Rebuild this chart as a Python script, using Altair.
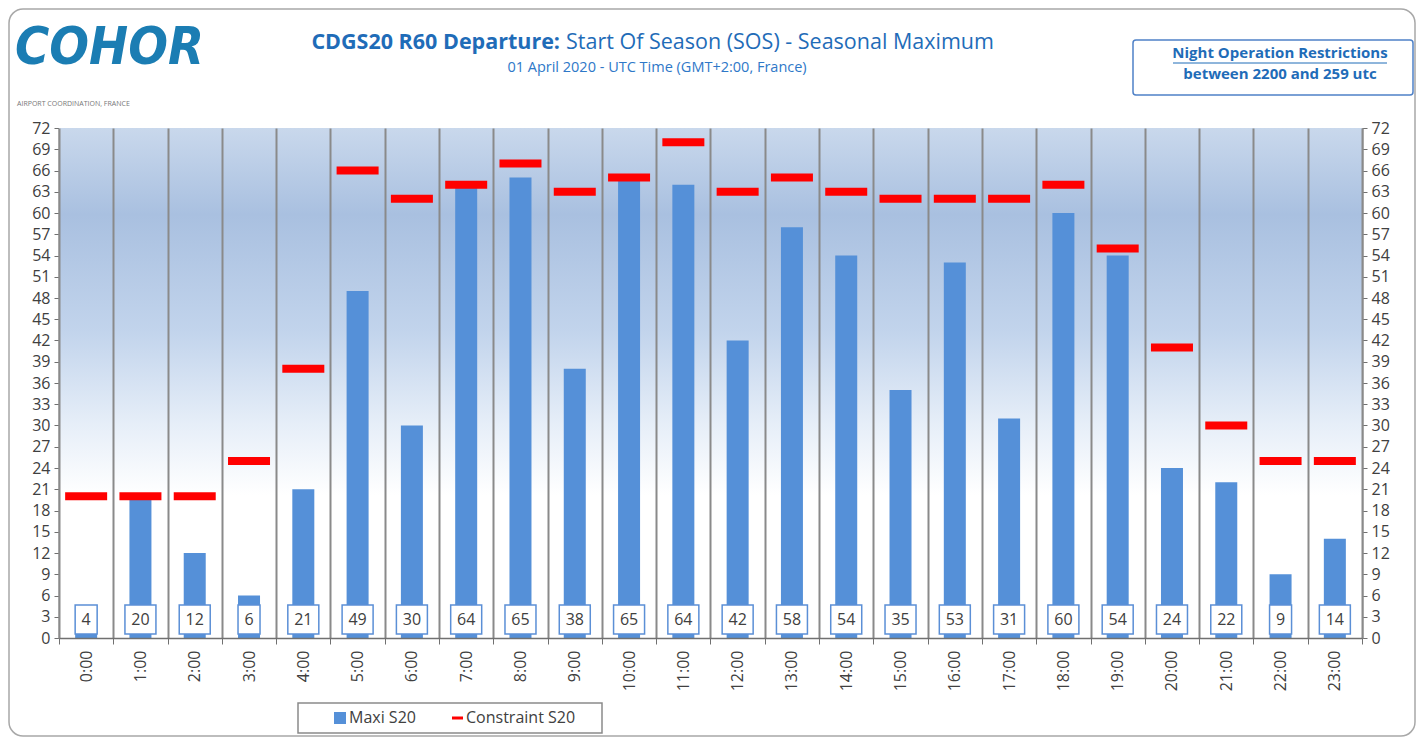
import altair as alt
import pandas as pd

hours = [f"{h}:00" for h in range(24)]
maxi = [4, 20, 12, 6, 21, 49, 30, 64, 65, 38, 65, 64, 42, 58, 54, 35, 53, 31, 60, 54, 24, 22, 9, 14]
constraint = [20, 20, 20, 25, 38, 66, 62, 64, 67, 63, 65, 70, 63, 65, 63, 62, 62, 62, 64, 55, 41, 30, 25, 25]
y_ticks = list(range(0, 73, 3))

title_bold = "CDGS20 R60 Departure:"
title_rest = "Start Of Season (SOS) - Seasonal Maximum"
subtitle = "01 April 2020 - UTC Time (GMT+2:00, France)"
note1 = "Night Operation Restrictions"
note2 = "between 2200 and 259 utc"
legend_names = ["Maxi S20", "Constraint S20"]

W, H = 1303, 510
FONT = "Open Sans"
BLUE = "#5590d8"
TXT = "#404040"
TITLE_BLUE = "#1f6cb8"

df = pd.DataFrame({"hour": hours, "maxi": maxi, "constraint": constraint})
df["label"] = df["maxi"].astype(str)
df["boxw"] = df["label"].str.len() * 9 + 13
one = pd.DataFrame({"a": [0]})

x_axis = alt.Axis(tickBand="extent", grid=True, gridColor="#8a8a8a", gridWidth=2,
                  gridOpacity=1, labelAngle=-90, labelFont=FONT, labelFontSize=16,
                  labelColor=TXT, labelPadding=6, tickColor="#707070", tickSize=6,
                  domainColor="#707070", domainWidth=1.5, zindex=1)
x_enc = alt.X("hour:N", title=None, sort=hours,
              scale=alt.Scale(paddingInner=0, paddingOuter=0), axis=x_axis)

background = alt.Chart(one).mark_rect(
    fill=alt.LinearGradient(
        gradient="linear",
        stops=[
            alt.GradientStop(color="#c9d8ec", offset=0),
            alt.GradientStop(color="#a9c0e0", offset=0.17),
            alt.GradientStop(color="#c2d4ec", offset=0.4),
            alt.GradientStop(color="#e6eef8", offset=0.58),
            alt.GradientStop(color="#ffffff", offset=0.72),
            alt.GradientStop(color="#ffffff", offset=1),
        ],
        x1=0, x2=0, y1=0, y2=1,
    )
).encode(x=alt.value(0), x2=alt.value(W), y=alt.value(0), y2=alt.value(H))

yscale = alt.Scale(domain=[0, 72], nice=False)

def y_axis(orient):
    return alt.Axis(orient=orient, values=y_ticks, labelFont=FONT, labelFontSize=16,
                    labelColor=TXT, tickColor="#707070", tickSize=5, labelPadding=4,
                    domainColor="#8a8a8a", domainWidth=2, grid=False)

bars = alt.Chart(df).mark_bar(color=BLUE, size=22).encode(
    x=x_enc,
    y=alt.Y("maxi:Q", title=None, scale=yscale, axis=y_axis("left")),
)

ticks = alt.Chart(df).mark_tick(color="#ff0000", size=42, thickness=8, opacity=1).encode(
    x=x_enc,
    y=alt.Y("constraint:Q", title=None, scale=yscale, axis=y_axis("right")),
)

boxes = alt.Chart(df).mark_bar(fill="white", stroke="#5b8fd6", strokeWidth=1.5).encode(
    x=x_enc,
    y=alt.value(477), y2=alt.value(506),
    size=alt.Size("boxw:Q", scale=None, legend=None),
)

labels = alt.Chart(df).mark_text(font=FONT, fontSize=16, color=TXT, baseline="middle").encode(
    x=x_enc,
    y=alt.value(492),
    text="label:N",
)

# Titles
t1 = alt.Chart(one).mark_text(font=FONT, fontSize=21.5, fontWeight="bold", color=TITLE_BLUE,
                              align="right", baseline="middle").encode(
    x=alt.value(501), y=alt.value(-85), text=alt.value(title_bold))
t2 = alt.Chart(one).mark_text(font=FONT, fontSize=21.5, color=TITLE_BLUE,
                              align="left", baseline="middle").encode(
    x=alt.value(507), y=alt.value(-85), text=alt.value(title_rest))
t3 = alt.Chart(one).mark_text(font=FONT, fontSize=14.5, color="#2e78c8",
                              align="center", baseline="middle").encode(
    x=alt.value(598), y=alt.value(-60), text=alt.value(subtitle))

# Logo
logo = alt.Chart(one).mark_text(font="DejaVu Sans Condensed", fontSize=52, fontStyle="italic",
                                fontWeight="bold", color="#1b7db3", align="left",
                                baseline="middle").encode(
    x=alt.value(-44), y=alt.value(-80), text=alt.value("COHOR"))
logo_sub = alt.Chart(one).mark_text(font=FONT, fontSize=7, color="#777777", align="left",
                                    baseline="middle").encode(
    x=alt.value(-42), y=alt.value(-24), text=alt.value("AIRPORT COORDINATION, FRANCE"))

# Note box
note_box = alt.Chart(one).mark_rect(fill="white", stroke="#4f81c7", strokeWidth=1.5,
                                    cornerRadius=3).encode(
    x=alt.value(1074), x2=alt.value(1354), y=alt.value(-88), y2=alt.value(-33))
n1 = alt.Chart(one).mark_text(font=FONT, fontSize=15, fontWeight="bold", color="#1f6cb8",
                              align="center", baseline="middle").encode(
    x=alt.value(1221), y=alt.value(-75), text=alt.value(note1))
n1u = alt.Chart(one).mark_rule(color="#1f6cb8", strokeWidth=1).encode(
    x=alt.value(1114), x2=alt.value(1328), y=alt.value(-65))
n2 = alt.Chart(one).mark_text(font=FONT, fontSize=15, fontWeight="bold", color="#1f6cb8",
                              align="center", baseline="middle").encode(
    x=alt.value(1221), y=alt.value(-54), text=alt.value(note2))

# Legend
leg_box = alt.Chart(one).mark_rect(fill="white", stroke="#8a8a8a", strokeWidth=1.5).encode(
    x=alt.value(239), x2=alt.value(543), y=alt.value(575), y2=alt.value(605))
leg_sq = alt.Chart(one).mark_rect(fill=BLUE).encode(
    x=alt.value(275), x2=alt.value(287), y=alt.value(584), y2=alt.value(596))
leg_t1 = alt.Chart(one).mark_text(font=FONT, fontSize=16, color=TXT, align="left",
                                  baseline="middle").encode(
    x=alt.value(290), y=alt.value(590), text=alt.value(legend_names[0]))
leg_dash = alt.Chart(one).mark_rule(color="#ff0000", strokeWidth=3).encode(
    x=alt.value(393), x2=alt.value(404), y=alt.value(590))
leg_t2 = alt.Chart(one).mark_text(font=FONT, fontSize=16, color=TXT, align="left",
                                  baseline="middle").encode(
    x=alt.value(407), y=alt.value(590), text=alt.value(legend_names[1]))

frame = alt.Chart(one).mark_rect(fill=None, stroke="#a8a8a8", strokeWidth=1.5,
                                 cornerRadius=14).encode(
    x=alt.value(-50), x2=alt.value(1356), y=alt.value(-119), y2=alt.value(608))

chart = alt.layer(
    frame, background, bars, ticks, boxes, labels,
    t1, t2, t3, logo, logo_sub, note_box, n1, n1u, n2,
    leg_box, leg_sq, leg_t1, leg_dash, leg_t2,
).resolve_scale(y="shared").resolve_axis(y="independent").properties(
    width=W, height=H,
    padding={"left": 51, "top": 120, "right": 54, "bottom": 100},
    autosize=alt.AutoSizeParams(type="none"),
    background="white",
).configure_view(stroke=None)

chart.save("out.html", embed_options={"renderer": "svg", "actions": False})
